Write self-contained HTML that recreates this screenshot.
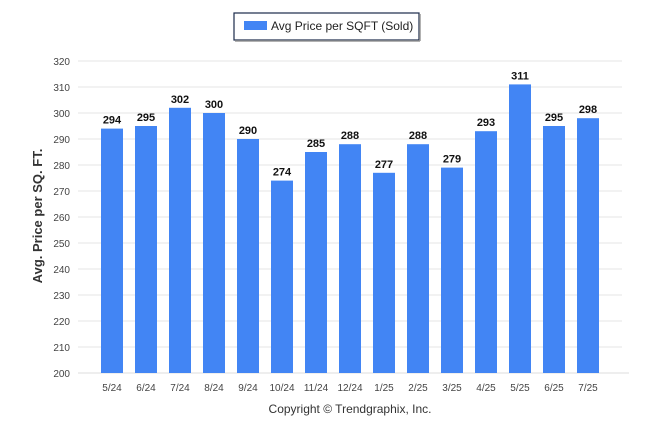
<!DOCTYPE html>
<html><head><meta charset="utf-8"><style>
body{margin:0;background:#fff;font-family:"Liberation Sans",sans-serif}
</style></head><body>
<svg width="646" height="434">
<rect x="234" y="13" width="185" height="27" fill="#fff" stroke="#1a2a4a" stroke-width="1.2"/>
<line x1="235" y1="41" x2="420" y2="41" stroke="#999" stroke-width="1.5"/>
<line x1="420" y1="14" x2="420" y2="41" stroke="#999" stroke-width="1.5"/>
<rect x="244" y="21" width="23" height="9" fill="#4285f4"/>
<text x="271" y="30" font-size="12" fill="#222">Avg Price per SQFT (Sold)</text>
<g id="grid"></g><g id="bars"></g>
<text transform="translate(42,216) rotate(-90)" text-anchor="middle" font-size="13" font-weight="bold" fill="#333">Avg. Price per SQ. FT.</text>
<text x="350" y="413" text-anchor="middle" font-size="12" fill="#333">Copyright © Trendgraphix, Inc.</text>
</svg>
<script>
const categories=["5/24","6/24","7/24","8/24","9/24","10/24","11/24","12/24","1/25","2/25","3/25","4/25","5/25","6/25","7/25"];
const values=[294,295,302,300,290,274,285,288,277,288,279,293,311,295,298];
const yTicks=[200,210,220,230,240,250,260,270,280,290,300,310,320];
const NS="http://www.w3.org/2000/svg";
const yMin=200,yMax=320,y0=373,y1=61;
function y(v){return y0-(v-yMin)*(y0-y1)/(yMax-yMin);}
function x(i){return 112+i*34;}
function mk(t,a,p){const e=document.createElementNS(NS,t);for(const k in a)e.setAttribute(k,a[k]);p.appendChild(e);return e;}
const g=document.getElementById('grid'),b=document.getElementById('bars');
yTicks.forEach(v=>{
 const l=mk('line',{x1:78,x2:622,y1:y(v),y2:y(v),stroke:'#e6e6e6'},g);
 
 
 const t=mk('text',{x:70,y:y(v)+4,'text-anchor':'end','font-size':10,fill:'#444'},g);t.textContent=v;
 
 
});
mk('line',{x1:78,x2:629,y1:y0,y2:y0,stroke:'#ddd'},g);
categories.forEach((c,i)=>{
 const r=mk('rect',{x:x(i)-11,y:y(values[i]),width:22,height:y0-y(values[i]),fill:'#4285f4'},b);
 
 
 const vt=mk('text',{x:x(i),y:y(values[i])-5,'text-anchor':'middle','font-size':11,'font-weight':'bold',fill:'#111'},b);vt.textContent=values[i];
 
 
 const ct=mk('text',{x:x(i),y:391,'text-anchor':'middle','font-size':10,fill:'#444'},b);ct.textContent=c;
 
 
});
</script>
</body></html>
